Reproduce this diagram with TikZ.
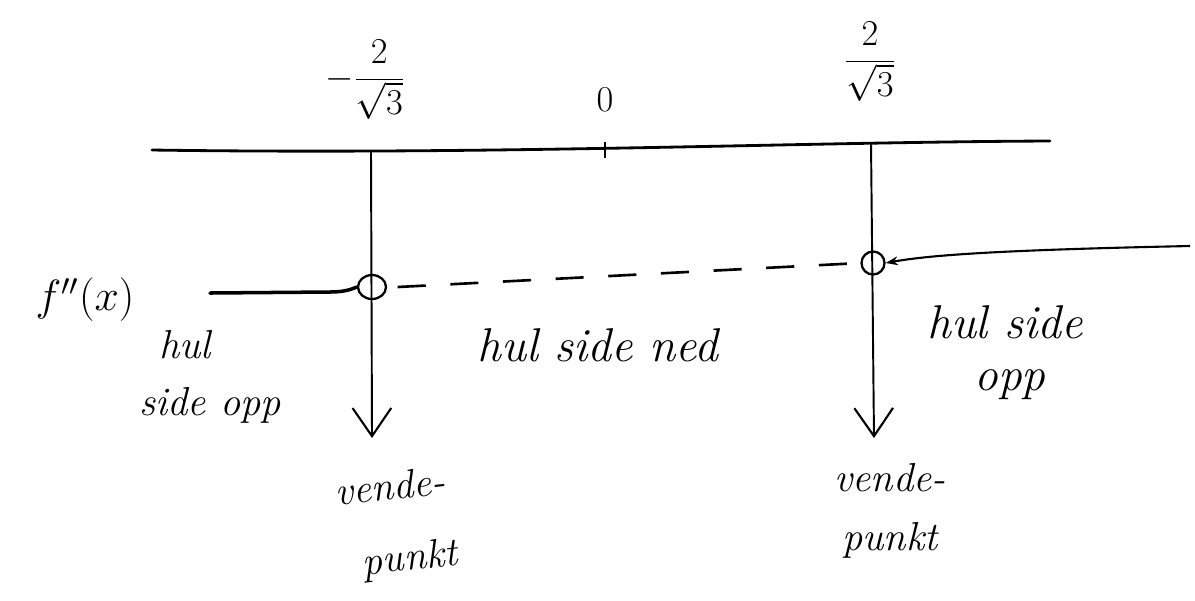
\documentclass[tikz,border=0pt]{standalone}
\usetikzlibrary{arrows.meta,shapes.geometric}
\begin{document}
\begin{tikzpicture}[x=0.02cm,y=-0.02cm,
  vline/.style={line width=1.1pt,-{Straight Barb[length=16pt,width=22pt,line width=1.2pt]}},
  lbl/.style={font=\fontsize{23}{28}\selectfont\itshape,inner sep=0pt},
  blbl/.style={font=\fontsize{27}{32}\selectfont\itshape,inner sep=0pt},
  mlbl/.style={font=\fontsize{20}{24}\selectfont,inner sep=0pt}]
\useasboundingbox (0,0) rectangle (1195,600);
% axis
\coordinate (axL) at (152,150);
\coordinate (axR) at (1050,141);
\draw[line width=1.6pt,line cap=round] (axL) .. controls (500,155) and (800,142) .. (axR);
\coordinate (t0a) at (605,142);
\coordinate (t0b) at (605,158);
\draw[line width=1.2pt] (t0a) -- (t0b);
% axis labels
\node[mlbl] (zero) at (605,100) {$0$};
\node[mlbl] (xm) at (365,80) {$-\displaystyle\frac{2}{\sqrt{3}}$};
\node[mlbl] (xp) at (870,62) {$\displaystyle\frac{2}{\sqrt{3}}$};
% holes
\node[draw,ellipse,line width=1.3pt,inner sep=0pt,minimum width=28*0.02cm,minimum height=24*0.02cm] (c1) at (372,287) {};
\node[draw,circle,line width=1.3pt,inner sep=0pt,minimum size=23*0.02cm] (c2) at (873,263) {};
% vertical arrows
\coordinate (v1t) at (371,152);
\coordinate (v1b) at (372,438);
\coordinate (v2t) at (871,143);
\coordinate (v2b) at (874,438);
\draw[vline] (v1t) -- (v1b);
\draw[vline] (v2t) -- (v2b);
% sign line
\coordinate (sL) at (210,293);
\draw[line width=2pt,line cap=round] (sL) -- (330,292) .. controls (345,292) and (352,289) .. (c1.west);
\draw[line width=1.5pt,dash pattern=on 16pt off 14pt] ([xshift=6pt]c1.east) -- (c2.west);
\coordinate (sR) at (1190,246);
\draw[line width=1.2pt,-{Stealth[length=7pt,width=5pt]}] (sR) .. controls (1000,250) and (930,255) .. (c2.east);
% labels
\node[mlbl,font=\fontsize{24}{28}\selectfont] (fpp) at (85,300) {$f''(x)$};
\node[lbl] (l1a) at (185,345) {hul};
\node[lbl] (l1b) at (210,405) {side opp};
\node[blbl] (l2) at (598,345) {hul side ned};
\node[blbl] (l3a) at (1005,322) {hul side};
\node[blbl] (l3b) at (1010,385) {opp};
\node[lbl,rotate=6] (vp1a) at (390,486) {vende-};
\node[lbl,rotate=6] (vp1b) at (410,560) {punkt};
\node[lbl] (vp2a) at (890,478) {vende-};
\node[lbl] (vp2b) at (890,540) {punkt};
\end{tikzpicture}
\end{document}
